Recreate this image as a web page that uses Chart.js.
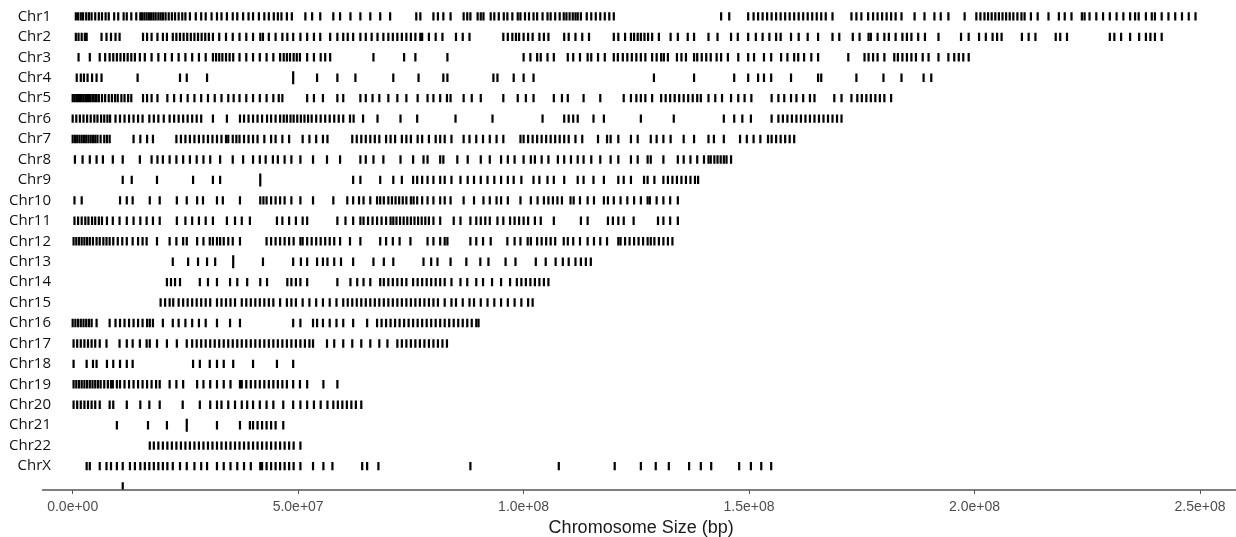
<!DOCTYPE html>
<html>
<head>
<meta charset="utf-8">
<script src="https://cdn.jsdelivr.net/npm/chart.js@4/dist/chart.umd.min.js"></script>
<style>
    html, body { margin: 0; padding: 0; background: #fff; }
    #wrap { width: 1236px; height: 537px; position: relative; }
</style>
</head>
<body>
<div id="wrap"><canvas id="karyoChart"></canvas></div>
<script>
// positions are in Mb
const chromosomes = ['Chr1', 'Chr2', 'Chr3', 'Chr4', 'Chr5', 'Chr6', 'Chr7', 'Chr8', 'Chr9', 'Chr10', 'Chr11', 'Chr12',
    'Chr13', 'Chr14', 'Chr15', 'Chr16', 'Chr17', 'Chr18', 'Chr19', 'Chr20', 'Chr21', 'Chr22', 'ChrX', 'ChrY'];

const chr1 = [0.7, 1.2, 1.8, 2.3, 3, 3.6, 4.2, 5, 5.8, 6.5, 7.3, 8, 9.2, 10.1, 11.3, 12, 13, 14.1, 15, 15.4, 15.9, 16.4, 16.9,
    17.4, 17.9, 18.4, 19, 19.5, 20, 20.6, 21.3, 22, 22.7, 23.5, 24.3, 25, 26, 27.3, 28.5, 29.5, 30.8, 32, 33, 34.2, 35.5, 36.5,
    37.8, 39, 40, 41.3, 42.5, 43.5, 44.6, 45.5, 46.3, 47.5, 48.6, 51.6, 53.1, 54.9, 57.8, 59.3, 61.6, 63.8, 66, 68.2, 70.4,
    76.2, 77.1, 80, 81, 82.2, 83.8, 86.7, 87.5, 88.2, 89.8, 90.5, 91.1, 92.7, 93.5, 94.5, 95.6, 96.4, 97.5, 98.7, 99.3, 100.3,
    101.2, 102.2, 103, 104.2, 105.3, 106, 107, 108, 108.9, 109.5, 110.2, 110.9, 111.5, 112, 112.7, 114, 115, 116, 117, 118,
    119, 120, 143.8, 145.6, 149.8, 151, 152, 153, 154, 155, 156, 157, 158, 159, 160, 161, 162, 163, 164, 165, 166, 167, 168.5,
    172.7, 173.8, 174.9, 176.4, 177.5, 178.5, 179.5, 180.5, 181.5, 182.5, 183.8, 186.7, 188.9, 191.1, 192.5, 194.2, 197.8,
    200.4, 201.3, 202.2, 203, 203.8, 204.6, 205.4, 206.2, 207, 207.8, 208.6, 209.5, 210.4, 211.1, 212.5, 214, 216.4, 218.7,
    220, 221.5, 223.8, 224.4, 225.5, 227, 228.5, 230, 231.5, 233, 234.5, 235.6, 236.4, 238, 239.3, 240, 241.5, 243, 244.5,
    246, 247.5, 249];
const chr2 = [0.7, 1.3, 2, 2.7, 3.1, 6.4, 7.5, 8.5, 9.5, 10.4, 15.6, 16.5, 17.5, 18.8, 20, 20.9, 22.2, 23, 23.8, 24.6, 25.4,
    26.2, 27, 27.8, 28.6, 29.4, 30.2, 31.1, 32.5, 34, 35.5, 37, 38.5, 40, 41.6, 42.2, 43.5, 45, 46.5, 47.6, 48.9, 50.5, 52,
    53.5, 54.9, 57.1, 58.7, 60, 61, 62.2, 63.8, 65, 66.3, 67.6, 68.9, 70, 71, 72, 73, 74, 75, 76, 77.1, 77.5, 79, 80.5, 82,
    85, 86.5, 88, 95.5, 96.5, 97.5, 98.3, 99, 100, 101, 102, 103.5, 104.5, 105.5, 109, 110, 111.5, 113, 114.5, 120, 121, 122.5,
    123.8, 124.5, 125.3, 126, 126.8, 127.6, 128.5, 130, 132.6, 134.2, 136.4, 137.8, 141, 143, 146, 147.5, 149.8, 151.5, 153,
    154.5, 156, 157, 159.3, 161, 163, 165.3, 168.5, 170, 173, 174.5, 176.5, 177, 178.5, 180, 181, 182.5, 184, 185, 186, 187.5,
    189, 192, 197, 198.7, 201, 202.5, 204, 205, 206, 210.5, 212, 213.5, 218, 219, 220.5, 230, 231, 232.5, 234.5, 236.5, 238,
    239, 240, 241.5];
const chr3 = [1.3, 3.8, 6, 7.2, 8.2, 9, 9.8, 10.6, 11.4, 12.2, 13, 13.8, 14.9, 16, 17.5, 19, 20.5, 22, 23.5, 25, 26.5, 28,
    29.5, 31.1, 31.8, 32.5, 33.2, 34, 34.8, 35.6, 37, 38.5, 40, 41.5, 43, 44.5, 46, 46.8, 47.5, 48.2, 49, 49.7, 50.4, 52, 53.5,
    55, 56, 57.1, 66.7, 73.5, 76, 83.1, 100, 101.5, 103, 103.8, 105.3, 106.7, 109.8, 111, 112.5, 114.2, 115, 116.5, 118, 120,
    120.9, 122, 123, 124, 125, 126, 127, 128.5, 129.5, 130.5, 131.1, 132, 134, 135, 136, 137.8, 138.5, 139.5, 140.5, 141.5,
    142.8, 143.8, 145.3, 147.6, 149.8, 151.1, 153.3, 154.9, 157.1, 158.5, 160, 160.9, 162.2, 163.8, 165.3, 172, 175.6, 176.5,
    177.5, 178.5, 180, 182.2, 183, 184, 185, 186, 187, 188.5, 189.8, 192, 194.2, 195.5, 196.5, 197.5, 198.7];
const chr4 = [0.9, 1.8, 2.5, 3.3, 4.3, 5.3, 6.4, 14.4, 23.8, 25.3, 29.8, 54.2, 58.7, 62.7, 71.1, 76.7, 82.2, 83.1, 93.3,
    94.2, 97.8, 100, 102.2, 128.9, 137.8, 146.7, 149.8, 152, 153.3, 154.9, 159.3, 165.3, 166, 173.8, 179.8, 183.8, 188.7,
    190.4];
const chr5 = [0, 0.4, 0.8, 1.2, 1.6, 2, 2.4, 2.8, 3.2, 3.6, 4, 4.5, 5, 5.3, 5.8, 6.5, 7.2, 8, 8.7, 9.4, 10, 10.8, 11.5, 12.3,
    13, 15.6, 16.5, 17.5, 18.8, 21, 22.5, 24, 25.5, 27, 28.5, 30, 31.5, 33, 34.5, 35.7, 37, 38.5, 40, 41.5, 43, 44.5, 45.7,
    46.5, 52, 53.5, 55.5, 58.7, 60, 63.8, 65, 66.5, 68, 70, 72, 74, 76.5, 78.7, 80, 81.5, 83, 83.8, 86.7, 88.5, 90.5, 95.5,
    98.7, 100.5, 102.2, 106.7, 108.5, 109.8, 113.3, 117, 122.2, 123.8, 125, 126, 127, 128.5, 130.5, 131.5, 132.5, 133.5,
    134.5, 135.5, 136.5, 137.5, 138.5, 139.3, 141, 142.5, 144, 146, 147.6, 149, 150.5, 155, 156.5, 157.8, 159.3, 160.5, 162,
    163.5, 164.5, 168.9, 170.5, 172.7, 174, 175, 176, 177, 178, 179, 180, 181.5];
const chr6 = [0, 0.8, 1.6, 2.4, 3.2, 4, 4.8, 5.5, 6.3, 7, 7.7, 8.3, 9.5, 10.5, 11.5, 12.5, 13.5, 14.5, 15.5, 17, 18, 19,
    20.2, 21.5, 22.5, 23.5, 24.5, 25.5, 26.5, 27.5, 28.5, 31.1, 34.2, 37.1, 38, 39, 40, 41, 42, 43.1, 44, 45, 46, 46.8, 47.5,
    48.3, 49, 49.8, 50.6, 51.4, 52.2, 53, 54, 55, 56, 57, 58, 59, 60, 61.5, 62.3, 64.4, 67.6, 72.7, 76.4, 84.9, 93.1, 104.2,
    109, 110, 111, 112, 115.5, 117.8, 126, 133.3, 144.4, 146.7, 148.5, 150.4, 155, 156.5, 157.5, 158.5, 159.5, 160.5, 161.5,
    162.5, 163.5, 164.5, 165.5, 166.5, 167.5, 168.5, 169.5, 170.5];
const chr7 = [0, 0.5, 1, 1.5, 2, 2.5, 3, 3.5, 4, 4.5, 5, 5.5, 6.2, 7, 7.6, 8.2, 13.5, 15, 16.5, 17.8, 23, 24, 25, 26, 27, 28,
    29, 30, 31, 32, 33, 34, 34.5, 35.5, 36.3, 37, 38, 39, 40, 41, 42.5, 44, 45, 46.5, 48, 51, 52.5, 54, 55.5, 56.5, 62, 63,
    64, 65, 66, 67, 68, 69.5, 70.5, 71.5, 73, 74, 75, 76.5, 77.5, 79, 80.5, 81.5, 82.5, 84, 86.7, 88, 89.5, 91, 92.5, 94,
    95.5, 99.3, 100, 101, 102, 103, 104, 105, 106, 107, 108, 109, 110, 111.5, 113, 116.5, 118.5, 119.3, 121, 123.8, 125.3,
    128.2, 129.5, 131, 132.6, 135.5, 137.8, 141, 142.2, 144.4, 148, 149.5, 151, 152.5, 154.2, 155, 156, 157, 158, 159, 160];
const chr8 = [0.5, 2.2, 3.8, 5.3, 6.7, 8.9, 11.1, 14.9, 17.5, 18.8, 20, 21.5, 23, 24.5, 26, 27.5, 29, 30.5, 32.7, 35.5, 37.8,
    40, 41.5, 42.8, 44.4, 45.5, 47, 48.5, 50.5, 53.3, 56.4, 59.3, 63.8, 65, 66.7, 68.9, 72.7, 75.5, 77.8, 78.7, 81.5, 82.2,
    85.3, 87.6, 90.5, 92.5, 95, 96.5, 98, 100, 101.6, 102.5, 104, 105.5, 107.6, 109, 110.5, 112, 113.3, 115, 117, 119.3, 121,
    123.8, 125.3, 127.5, 128.2, 131, 134.2, 135.5, 137, 138.5, 140, 141, 141.5, 142.3, 143, 143.7, 144.4, 145, 146];
const chr9 = [11.1, 13.1, 18.7, 26.7, 31.1, 32.7, 62.2, 63.8, 68.2, 71.1, 73, 75.5, 76.4, 77.5, 78.7, 80, 81.5, 82.5, 84,
    86, 87.6, 89, 90.5, 92, 93.5, 95, 96.5, 97.8, 99.5, 102.2, 103.5, 105.3, 106.7, 109, 112, 113.3, 115.5, 117.8, 121,
    122.2, 123.8, 126.7, 127.5, 129, 131, 132, 133, 134, 135, 136, 137, 138, 138.7];
const chr10 = [0.4, 2, 10.5, 12, 13.3, 17.1, 19.3, 23.1, 25.3, 27.6, 28.9, 32, 33.3, 37.1, 41.6, 42.3, 43, 44, 45, 46, 47,
    48.5, 50.5, 53.3, 57.8, 60.9, 62.2, 63.5, 64.5, 66, 67.5, 68.2, 69, 70, 70.8, 71.6, 72.4, 73.2, 74, 75, 75.6, 76.4, 77.5,
    78.7, 80, 81.5, 82.5, 83.8, 86.7, 89, 91.1, 92.5, 94, 95, 96.5, 99.3, 101.6, 103.1, 104.5, 105.5, 106.5, 107.5, 108.5,
    110.4, 111.1, 112.5, 114.2, 115.6, 117.8, 118.7, 120, 121.5, 123, 124.5, 126, 127.5, 128, 129.5, 131, 132.5, 134.2];
const chr11 = [0.4, 1.2, 2, 2.8, 3.5, 4.3, 5, 5.8, 6.5, 7.6, 8.9, 10.4, 12, 13.5, 15, 16.4, 17.8, 19.3, 23.1, 25, 26.5, 28,
    29.5, 31.1, 34.2, 36, 37.5, 39.3, 45.3, 46.5, 48, 49.5, 51, 52, 58.7, 60.5, 62.2, 63.8, 64.5, 65.5, 66.5, 67.5, 68.5,
    69.5, 70.5, 71.1, 71.8, 72.6, 73.4, 74.2, 75, 75.8, 76.6, 77.4, 78.2, 79, 80, 81.5, 84.5, 86, 88.2, 89.5, 90.5, 91.5,
    92.5, 94.2, 95.5, 97, 98, 99, 100, 101, 102.5, 103.8, 106.7, 112.7, 114.2, 118.7, 119.8, 121, 122.2, 124.4, 129.8, 131,
    132.5, 134.2];
const chr12 = [0.2, 0.8, 1.4, 2, 2.6, 3.2, 3.8, 4.5, 5.3, 6, 6.8, 7.5, 8.2, 9, 10, 11, 12, 13.3, 14.5, 15.5, 16.4, 18.7,
    21.5, 23, 24.5, 25.3, 27.6, 29, 30.4, 31.1, 32, 32.7, 33.5, 34.5, 35.5, 37.1, 43, 44, 45, 46, 47, 48, 49, 50.5, 51, 52,
    53, 54, 55, 56, 57, 58, 59.3, 61.5, 63.8, 68.2, 69.5, 71, 72.5, 74.9, 78.7, 80, 81.5, 82.5, 83.1, 88.2, 89.5, 91, 92.7,
    96.4, 98, 99.3, 100.9, 101.6, 103, 104, 105, 106, 107, 108.9, 109.8, 111, 112.5, 114.2, 115.6, 117, 118.5, 121, 121.5,
    122.5, 123.5, 124.5, 125.5, 126.5, 127.5, 128.2, 129, 130, 131, 132, 133];
const chr13 = [22.2, 25.6, 27.8, 29.8, 31.6, 42.2, 48.9, 50.6, 52, 54.2, 55.5, 56.5, 58, 59.5, 62.2, 66.7, 69, 71.1, 77.8,
    79.5, 80.9, 83.8, 87.3, 90.4, 92.2, 96, 98.2, 102.7, 104.9, 107.1, 108.7, 110, 111.5, 112.7, 113.8, 114.9];
const chr14 = [20.9, 21.8, 22.7, 23.8, 28.2, 30, 32, 34.9, 36.5, 38.7, 41.6, 43.1, 47.6, 48.5, 49.5, 50.5, 52, 58.7, 61.6,
    63.1, 64.5, 66, 68.2, 69, 70, 71, 72, 73, 74, 75.5, 76.5, 77.5, 78.5, 79.5, 80.5, 81.5, 82.5, 84, 86, 87.5, 89.5, 91,
    93, 95, 97, 98.5, 99.5, 100.5, 101.5, 102.5, 103.5, 104.5, 105.5];
const chr15 = [19.5, 20.5, 21.5, 22.3, 23.5, 24.5, 25.5, 26.5, 27.5, 28.5, 29.5, 30.5, 32, 33, 34, 35, 36, 37.5, 38.5, 39.5,
    40.5, 41.5, 42.5, 43.5, 44.5, 46, 47.5, 48.5, 49.5, 51, 52.5, 54, 55.5, 57, 58.5, 60, 61, 62, 63, 64, 65, 66, 67, 68, 69,
    70, 71, 72, 73, 74, 75, 76, 77, 78, 79, 80, 81, 82.5, 84, 85, 86.5, 88, 89, 90.5, 92, 93.5, 95, 96.5, 98, 99.5, 101, 102];
const chr16 = [0, 0.6, 1.2, 1.8, 2.4, 3, 3.6, 4.2, 5.3, 8.2, 9.5, 10.5, 11.5, 12.5, 13.5, 14.5, 15.5, 16.5, 17.1, 17.8, 20,
    22.2, 23.5, 25, 26.5, 28, 29.5, 32, 34.9, 37.1, 48.9, 50.5, 53.3, 54.2, 55.5, 57, 58.5, 60, 62.2, 65.3, 67.5, 68.5, 69.5,
    70.5, 71.5, 72.5, 73.5, 74.5, 75.5, 76.5, 77.5, 78.5, 79.5, 80.5, 81.5, 82.5, 83.5, 84.5, 85.5, 86.5, 87.5, 88.5, 89.5, 90];
const chr17 = [0.2, 1, 1.8, 2.6, 3.4, 4.2, 5, 6, 7.5, 10.4, 12, 13.3, 14.9, 16.4, 17.1, 18.7, 20.9, 23.1, 25.3, 26.5, 27.5,
    28.5, 29.5, 30.5, 31.5, 32.5, 33.5, 34.5, 35.5, 36.5, 37.5, 38.5, 39.5, 40.5, 41.5, 42.5, 43.5, 44.5, 45.5, 46.5, 47.5,
    48.5, 49.5, 50.5, 51.5, 52.5, 53.3, 56.4, 58, 60, 62, 64, 66, 68, 69.8, 72, 73, 74, 75, 76, 77, 78, 79, 80, 81, 82, 83];
const chr18 = [0.2, 3.1, 4.5, 5.3, 7.6, 9, 10.5, 12, 13.3, 26.7, 28.2, 30.4, 32, 33.5, 35.6, 40, 45.3, 48.9];
const chr19 = [0.2, 0.8, 1.4, 2, 2.6, 3.2, 3.8, 4.4, 5, 5.6, 6.2, 7, 7.8, 8.5, 8.9, 9.8, 10.5, 11.5, 12.5, 13.5, 14.5, 15.5,
    16.5, 17.5, 18.5, 19.3, 21.5, 23, 24.5, 27.6, 29, 30.5, 32, 33.5, 35, 37.1, 37.5, 38.5, 39.5, 40.5, 41.5, 42.5, 43.5,
    44.5, 45.5, 46.5, 47.5, 48.9, 50.4, 52, 55.6, 58.7];
const chr20 = [0.2, 1, 1.8, 2.6, 3.4, 4.2, 5, 6, 8.2, 9, 12, 15, 17, 19.3, 24.4, 28.2, 30.5, 32, 33, 34.5, 36, 37.5, 38.7,
    40, 41.5, 43, 44.5, 46.7, 48.9, 50.5, 52, 53.5, 55, 56.5, 57.8, 58.8, 59.8, 60.8, 61.8, 62.8, 64];
const chr21 = [9.8, 16.7, 20.9, 32, 37.1, 39.3, 40, 41, 42, 43, 44, 45, 46.7];
const chr22 = [17.1, 18, 19, 20, 21, 22, 23, 24, 25, 26, 27, 28, 29, 30, 31, 32, 33, 34, 35, 36, 37, 38, 39, 40, 41, 42,
    43, 44, 45, 46, 47, 48, 49, 50.5];
const chrX = [3.1, 3.8, 6, 7.5, 8.5, 9.8, 11.1, 12.7, 13.8, 15, 16, 17, 18, 19, 20, 21, 22.2, 23.8, 25.3, 27, 28.5, 29.8,
    32, 33.5, 35, 36.5, 38, 39.5, 41.6, 42, 43, 44, 45, 46, 47, 48, 49, 50.5, 53.3, 55.6, 57.6, 64.2, 65.3, 67.8, 88.2,
    107.8, 120.2, 126, 129.3, 132.2, 136.7, 139.3, 141.6, 147.8, 150.4, 152.7, 154.9];
const chrY = [11.1];

const chromosomeMarks = [chr1, chr2, chr3, chr4, chr5, chr6, chr7, chr8, chr9, chr10, chr11, chr12,
    chr13, chr14, chr15, chr16, chr17, chr18, chr19, chr20, chr21, chr22, chrX, chrY];

// a few marks drawn taller than the rest
const tallMarkChr = ['Chr4', 'Chr9', 'Chr13', 'Chr21'];
const tallMarkPos = [48.9, 41.6, 35.6, 25.3];

const xTicks = [0, 5e7, 1e8, 1.5e8, 2e8, 2.5e8];
const labeledRows = 23;

function sciLabel(v) {
    const [mant, exp] = v.toExponential(1).split('e');
    return mant + 'e' + exp[0] + exp.slice(1).padStart(2, '0');
}

const markPoints = [];
chromosomeMarks.forEach((arr, i) => {
    arr.forEach(mb => markPoints.push({ x: mb * 1e6, y: i }));
});
const tallPoints = tallMarkChr.map((c, i) => ({ x: tallMarkPos[i] * 1e6, y: chromosomes.indexOf(c) }));

// the x axis line runs a bit past the plot area on both sides
const axisLine = {
    id: 'axisLine',
    afterDraw(chart) {
        const { ctx, chartArea, width } = chart;
        ctx.save();
        ctx.strokeStyle = '#555';
        ctx.lineWidth = 1.4;
        ctx.beginPath();
        ctx.moveTo(42, chartArea.bottom);
        ctx.lineTo(width, chartArea.bottom);
        ctx.stroke();
        ctx.restore();
    }
};

const ctx = document.getElementById('karyoChart').getContext('2d');
new Chart(ctx, {
    type: 'scatter',
    data: {
        datasets: [
            {
                label: 'marks',
                data: markPoints,
                pointStyle: 'line',
                rotation: 90,
                pointRadius: 4.2,
                borderWidth: 2.2,
                borderColor: '#000',
                backgroundColor: '#000'
            },
            {
                label: 'tall',
                data: tallPoints,
                pointStyle: 'line',
                rotation: 90,
                pointRadius: 6.5,
                borderWidth: 2.2,
                borderColor: '#000',
                backgroundColor: '#000'
            }
        ]
    },
    plugins: [axisLine],
    options: {
        responsive: true,
        maintainAspectRatio: false,
        animation: false,
        events: [],
        layout: { padding: 0 },
        plugins: {
            legend: { display: false },
            tooltip: { enabled: false }
        },
        scales: {
            x: {
                type: 'linear',
                min: -3.92e6,
                max: 256.05e6,
                afterBuildTicks: (scale) => { scale.ticks = xTicks.map(v => ({ value: v })); },
                afterFit: (scale) => {
                    scale.height = 47;
                    scale.paddingLeft = 0;
                    scale.paddingRight = 0;
                },
                border: { display: false },
                grid: { display: true, drawOnChartArea: false, drawTicks: true, tickLength: 4, color: '#555' },
                ticks: {
                    autoSkip: false,
                    maxRotation: 0,
                    padding: 5,
                    color: '#4d4d4d',
                    font: { family: 'Liberation Sans', size: 14 },
                    callback: (v) => sciLabel(v)
                },
                title: {
                    display: true,
                    text: 'Chromosome Size (bp)',
                    color: '#1a1a1a',
                    font: { family: 'Liberation Sans', size: 18 },
                    padding: { top: 0, bottom: -2 }
                }
            },
            y: {
                type: 'linear',
                reverse: true,
                min: -0.376,
                max: 23.17,
                afterBuildTicks: (scale) => {
                    scale.ticks = chromosomes.slice(0, labeledRows).map((c, i) => ({ value: i }));
                },
                afterFit: (scale) => {
                    scale.width = 55;
                    scale.paddingTop = 0;
                    scale.paddingBottom = 0;
                },
                border: { display: false },
                grid: { display: false, drawTicks: false },
                ticks: {
                    padding: 4,
                    color: '#111',
                    font: { family: 'Open Sans', size: 15 },
                    callback: (v) => chromosomes[v]
                }
            }
        }
    }
});
</script>
</body>
</html>
